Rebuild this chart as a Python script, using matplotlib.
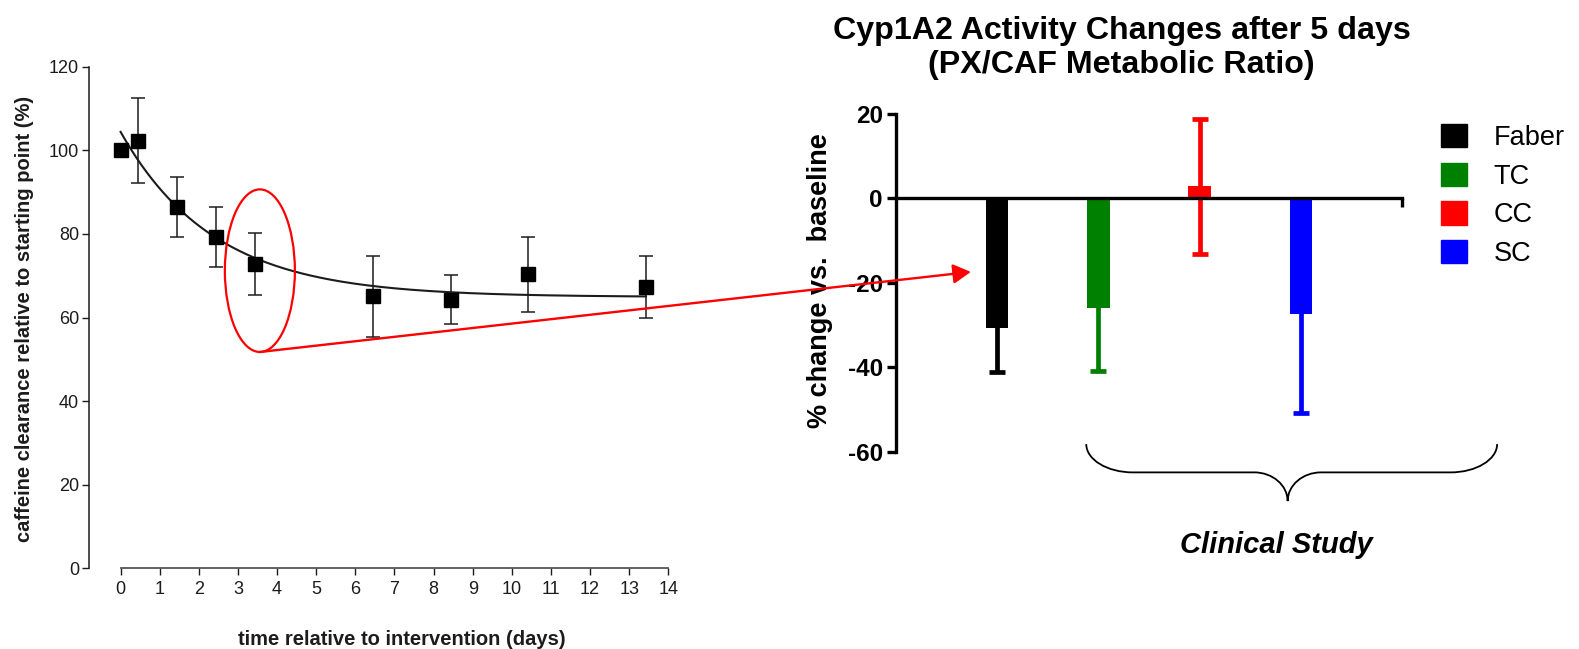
import numpy as np
import matplotlib
matplotlib.use("Agg")
import matplotlib.pyplot as plt
from matplotlib.patches import Ellipse, ConnectionPatch, PathPatch, Patch
from matplotlib.path import Path

plt.rcParams['font.family'] = ['Liberation Sans', 'DejaVu Sans']
plt.rcParams['axes.unicode_minus'] = False

# Caffeine clearance over time (mean and SD, % of starting point)
days = [0, 0.44, 1.43, 2.44, 3.43, 6.44, 8.44, 10.42, 13.43]
clearance = [100, 102.3, 86.5, 79.3, 72.85, 65.05, 64.3, 70.35, 67.35]
clearance_sd = [0, 10.1, 7.2, 7.1, 7.45, 9.65, 5.9, 8.95, 7.35]

# One-phase exponential decay fit: plateau + span * exp(-rate * t)
fit_plateau = 64.9
fit_span = 39.5
fit_rate = 0.42

# Cyp1A2 activity change after 5 days (PX/CAF metabolic ratio)
groups = ['Faber', 'TC', 'CC', 'SC']
pct_change = [-30.7, -25.9, 2.9, -27.3]
pct_change_sd = [10.4, 15.0, 16.0, 23.5]
group_colors = ['#000000', '#008000', '#ff0000', '#0000ff']

W, H = 1579, 649
fig = plt.figure(figsize=(W / 100, H / 100), dpi=100)

# ---------------- left panel: time course ----------------
ink = '#1c1c1c'
ax1 = fig.add_axes([89.3 / W, 1 - 568.3 / H, 579 / W, 501.6 / H])
ax1.set_xlim(-0.8, 14)
ax1.set_ylim(0, 120)
for s in ('top', 'right'):
    ax1.spines[s].set_visible(False)
ax1.spines['left'].set_bounds(0, 120)
ax1.spines['bottom'].set_bounds(0, 14)
ax1.spines['left'].set_color(ink)
ax1.spines['bottom'].set_color('#555555')
ax1.spines['left'].set_linewidth(1.1)
ax1.spines['bottom'].set_linewidth(1.3)
ax1.set_xticks(range(0, 15))
ax1.set_yticks(range(0, 121, 20))
ax1.tick_params(axis='both', length=5, width=1, color=ink, labelcolor=ink,
                labelsize=13)
ax1.tick_params(axis='x', pad=4.5)
ax1.tick_params(axis='y', pad=2.5)

t_fit = np.linspace(0, days[-1], 300)
ax1.plot(t_fit, fit_plateau + fit_span * np.exp(-fit_rate * t_fit),
         color=ink, lw=1.5, zorder=2)
ax1.errorbar(days, clearance, yerr=clearance_sd, fmt='s', ms=10,
             color='black', ecolor=ink, elinewidth=1.1, capsize=5,
             capthick=1.1, zorder=3, clip_on=False)

ax1.set_xlabel('time relative to intervention (days)', fontsize=14.5,
               fontweight='bold', color=ink)
ax1.xaxis.set_label_coords(0.539, -0.123)
ax1.set_ylabel('caffeine clearance relative to starting point (%)',
               fontsize=14.5, fontweight='bold', color=ink)
ax1.yaxis.set_label_coords(-0.095, 0.498)

# highlight around the day-3.5 point
hl_center = (3.56, 71.2)
hl_w, hl_h = 1.79, 38.9
ax1.add_patch(Ellipse(hl_center, hl_w, hl_h, fill=False, ec='red', lw=1.6,
                      clip_on=False, zorder=4))

# ---------------- right panel: bar chart ----------------
ax2 = fig.add_axes([896 / W, 1 - 451.7 / H, 506 / W, 337.7 / H])
x = np.arange(1, len(groups) + 1)
ax2.set_xlim(0, 5)
ax2.set_ylim(-60, 20)
ax2.bar(x, pct_change, width=0.22, color=group_colors, zorder=3)
for xi, v, sd, c in zip(x, pct_change, pct_change_sd, group_colors):
    ax2.errorbar(xi, v, yerr=sd, fmt='none', ecolor=c, elinewidth=3.4,
                 capsize=6, capthick=3.4, zorder=4, clip_on=False)

for s in ('top', 'right'):
    ax2.spines[s].set_visible(False)
ax2.spines['bottom'].set_position(('data', 0))
ax2.spines['bottom'].set_linewidth(2.4)
ax2.spines['left'].set_linewidth(2.4)
ax2.spines['bottom'].set_zorder(5)
ax2.set_xticks([5])
ax2.set_xticklabels([''])
ax2.set_yticks([-60, -40, -20, 0, 20])
ax2.tick_params(axis='both', length=6.5, width=2.4, labelsize=17.5, pad=3)
for lbl in ax2.get_yticklabels():
    lbl.set_fontweight('bold')
ax2.set_ylabel('% change vs.  baseline', fontsize=19.5, fontweight='bold')
ax2.yaxis.set_label_coords(-0.1245, 0.5055)

handles = [Patch(facecolor=c, edgecolor=c) for c in group_colors]
fig.legend(handles, groups, loc='upper left',
           bbox_to_anchor=(1441 / W, 1 - 124 / H), frameon=False,
           fontsize=19.5, handlelength=0.95, handleheight=0.95,
           handletextpad=1.0, labelspacing=0.43, borderpad=0,
           borderaxespad=0)

fig.text(1121.7 / W, 1 - 38.5 / H, 'Cyp1A2 Activity Changes after 5 days',
         ha='center', va='baseline', fontsize=23.2, fontweight='bold')
fig.text(1121.7 / W, 1 - 73.5 / H, '(PX/CAF Metabolic Ratio)',
         ha='center', va='baseline', fontsize=23.2, fontweight='bold')

# curly brace grouping the clinical study arms
x0, x1, xm = 1.88, 5.94, 3.87
rx, rc = 0.46, 0.33
y_top, y_mid, y_tip = -58.2, -64.9, -71.7
k = 0.55
verts = [
    (x0, y_top),
    (x0, y_top + k * (y_mid - y_top)), (x0 + rx * (1 - k), y_mid), (x0 + rx, y_mid),
    (xm - rc, y_mid),
    (xm - rc * (1 - k), y_mid), (xm, y_tip - k * (y_tip - y_mid)), (xm, y_tip),
    (xm, y_tip - k * (y_tip - y_mid)), (xm + rc * (1 - k), y_mid), (xm + rc, y_mid),
    (x1 - rx, y_mid),
    (x1 - rx * (1 - k), y_mid), (x1, y_top + k * (y_mid - y_top)), (x1, y_top),
]
codes = [Path.MOVETO, Path.CURVE4, Path.CURVE4, Path.CURVE4, Path.LINETO,
         Path.CURVE4, Path.CURVE4, Path.CURVE4, Path.CURVE4, Path.CURVE4,
         Path.CURVE4, Path.LINETO, Path.CURVE4, Path.CURVE4, Path.CURVE4]
ax2.add_patch(PathPatch(Path(verts, codes), fill=False, ec='black', lw=1.3,
                        clip_on=False))

fig.text(1276.7 / W, 1 - 553.3 / H, 'Clinical Study', ha='center',
         va='baseline', fontsize=21, fontweight='bold', fontstyle='italic')

# red arrow from the highlighted point to the bar chart
arrow = ConnectionPatch(
    xyA=(hl_center[0], hl_center[1] - hl_h / 2), coordsA=ax1.transData,
    xyB=(0.74, -17.4), coordsB=ax2.transData,
    arrowstyle='-|>,head_length=0.6,head_width=0.33', mutation_scale=18,
    color='red', lw=1.7, shrinkA=0, shrinkB=0, zorder=10)
fig.add_artist(arrow)

fig.savefig('out.png', dpi=100)
